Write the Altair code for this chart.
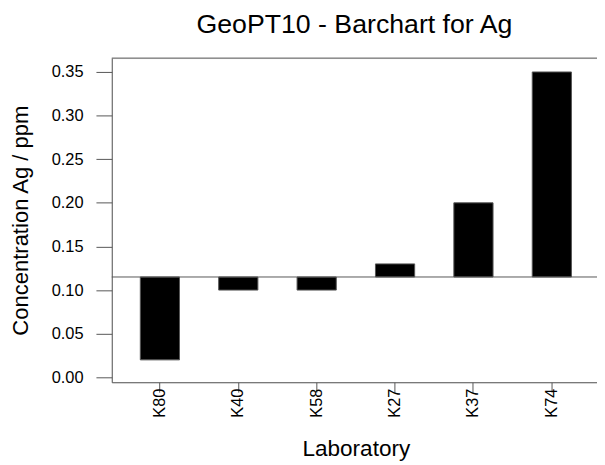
import altair as alt
import pandas as pd

labs = ["K80", "K40", "K58", "K27", "K37", "K74"]
values = [0.02, 0.10, 0.10, 0.13, 0.20, 0.35]
assigned = 0.115

df = pd.DataFrame({"lab": labs, "value": values, "base": [assigned] * len(labs)})
ref_df = pd.DataFrame({"y": [assigned]})
top_df = pd.DataFrame({"y": [0.3659]})

FONT = "Liberation Sans"
GRAY = "#555555"

x_scale = alt.Scale(paddingInner=0.5, paddingOuter=0.364, range=[0, 494])
y_scale = alt.Scale(domain=[-0.00566, 0.3659], nice=False, zero=False)

bars = alt.Chart(df).mark_bar(color="black", stroke=GRAY, strokeWidth=1).encode(
    x=alt.X("lab:N", sort=labs, scale=x_scale,
            axis=alt.Axis(title="Laboratory", labelAngle=-90, labelAlign="right",
                          labelBaseline="middle", labelFontSize=16.5, labelFont=FONT,
                          labelColor="black", labelPadding=-4, tickSize=10,
                          tickColor=GRAY, domainColor=GRAY, titleFont=FONT,
                          titleFontSize=22.8, titleFontWeight="normal", titleColor="black",
                          titleBaseline="alphabetic", titleY=74, grid=False)),
    y=alt.Y("value:Q", scale=y_scale,
            axis=alt.Axis(title="Concentration Ag / ppm", values=[0, 0.05, 0.10, 0.15, 0.20, 0.25, 0.30, 0.35],
                          format=".2f", labelFontSize=16.6, labelFont=FONT, labelColor="black",
                          tickSize=16, labelPadding=13, tickColor=GRAY, domainColor=GRAY,
                          titleFont=FONT, titleFontSize=22.3, titleFontWeight="normal",
                          titleColor="black", titleAngle=270, titleBaseline="alphabetic",
                          titleAlign="center", titleX=-85, grid=False)),
    y2="base:Q",
)

ref = alt.Chart(ref_df).mark_rule(color=GRAY, strokeWidth=1).encode(y=alt.Y("y:Q", scale=y_scale))
top = alt.Chart(top_df).mark_rule(color=GRAY, strokeWidth=1).encode(y=alt.Y("y:Q", scale=y_scale))

chart = alt.layer(bars, ref, top).properties(
    width=491, height=328,
    title=alt.TitleParams("GeoPT10 - Barchart for Ag", font=FONT, fontSize=27,
                          fontWeight="normal", color="black", anchor="middle",
                          baseline="alphabetic", offset=24, dy=26),
    autosize=alt.AutoSizeParams(type="none"),
    padding={"left": 105, "top": 48, "right": 0, "bottom": 78},
).configure_view(stroke=None).configure(background="white")

chart.save("out.html", embed_options={"renderer": "svg", "actions": False})
